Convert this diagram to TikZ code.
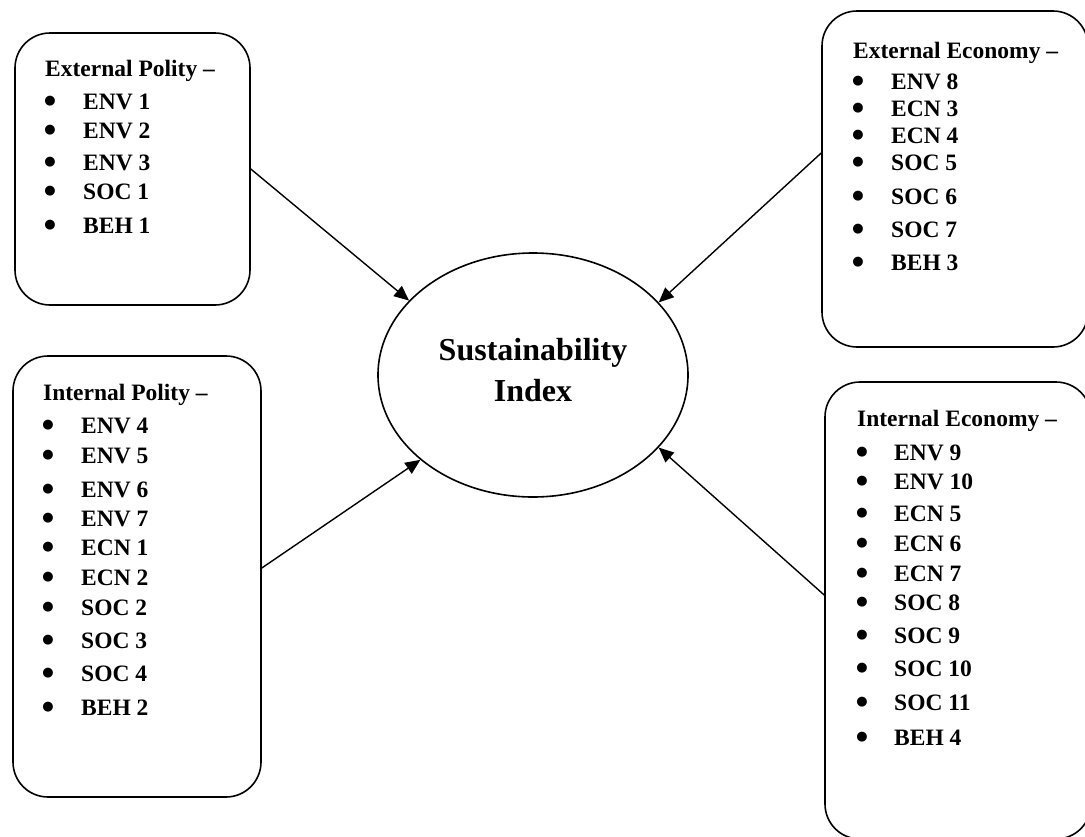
\documentclass[tikz,border=0pt]{standalone}
\usepackage{fontspec}
\setmainfont{Liberation Serif}
\newfontfamily\symfont{DejaVu Sans}
\usetikzlibrary{shapes.geometric,arrows.meta}
\begin{document}
\begin{tikzpicture}[x=1pt,y=-1pt,
  box/.style={draw,line width=1.6pt,rounded corners=35pt,inner sep=0pt},
  ell/.style={draw,ellipse,line width=1.6pt,inner sep=0pt,minimum width=310pt,minimum height=244pt},
  txt/.style={font=\fontsize{23.5}{28}\selectfont\bfseries,inner sep=0pt,anchor=base west},
  bul/.style={font=\fontsize{13}{13}\symfont,inner sep=0pt,anchor=base},
  big/.style={font=\fontsize{32}{40}\selectfont\bfseries,inner sep=0pt,anchor=base},
  arr/.style={line width=1.4pt,-{Triangle[length=15pt,width=13pt]}}]
\useasboundingbox (0,0) rectangle (1085,836);
% boxes
\node[box,minimum width=235pt,minimum height=272pt] (b1) at (132.5,169) {};
\node[box,minimum width=266pt,minimum height=336pt] (b2) at (955,179) {};
\node[box,minimum width=248pt,minimum height=441pt] (b3) at (137,576.5) {};
\node[box,minimum width=266pt,minimum height=457pt] (b4) at (958,610.5) {};
% ellipse
\node[ell] (si) at (533,375) {};
\node[big] (s1) at (533,360) {Sustainability};
\node[big] (s2) at (533,401) {Index};
% box 1
\node[txt] (t1) at (45,76) {External Polity –};
\foreach \t/\y [count=\i] in {ENV 1/109,ENV 2/138,ENV 3/170,SOC 1/199,BEH 1/233}{
  \node[bul] (p1b\i) at (50,\y-5) {●};
  \node[txt] (p1t\i) at (83,\y) {\t};
}
% box 2
\node[txt] (t2) at (853,58) {External Economy –};
\foreach \t/\y [count=\i] in {ENV 8/89,ECN 3/116,ECN 4/143,SOC 5/170,SOC 6/204,SOC 7/237,BEH 3/270}{
  \node[bul] (p2b\i) at (858,\y-5) {●};
  \node[txt] (p2t\i) at (891,\y) {\t};
}
% box 3
\node[txt] (t3) at (43,400) {Internal Polity –};
\foreach \t/\y [count=\i] in {ENV 4/433,ENV 5/463,ENV 6/497,ENV 7/526,ECN 1/555,ECN 2/585,SOC 2/615,SOC 3/648,SOC 4/681,BEH 2/715}{
  \node[bul] (p3b\i) at (48,\y-5) {●};
  \node[txt] (p3t\i) at (81,\y) {\t};
}
% box 4
\node[txt] (t4) at (857,426) {Internal Economy –};
\foreach \t/\y [count=\i] in {ENV 9/460,ENV 10/489,ECN 5/521,ECN 6/551,ECN 7/581,SOC 8/610,SOC 9/643,SOC 10/676,SOC 11/710,BEH 4/745}{
  \node[bul] (p4b\i) at (862,\y-5) {●};
  \node[txt] (p4t\i) at (894,\y) {\t};
}
% arrows
\draw[arr] (b1.east) -- (si.149);
\draw[arr] ([yshift=26pt]b2.west) -- (si.30);
\draw[arr] ([yshift=8.5pt]b3.east) -- (si.217.5);
\draw[arr] ([yshift=15.5pt]b4.west) -- (si.330);
\end{tikzpicture}
\end{document}
